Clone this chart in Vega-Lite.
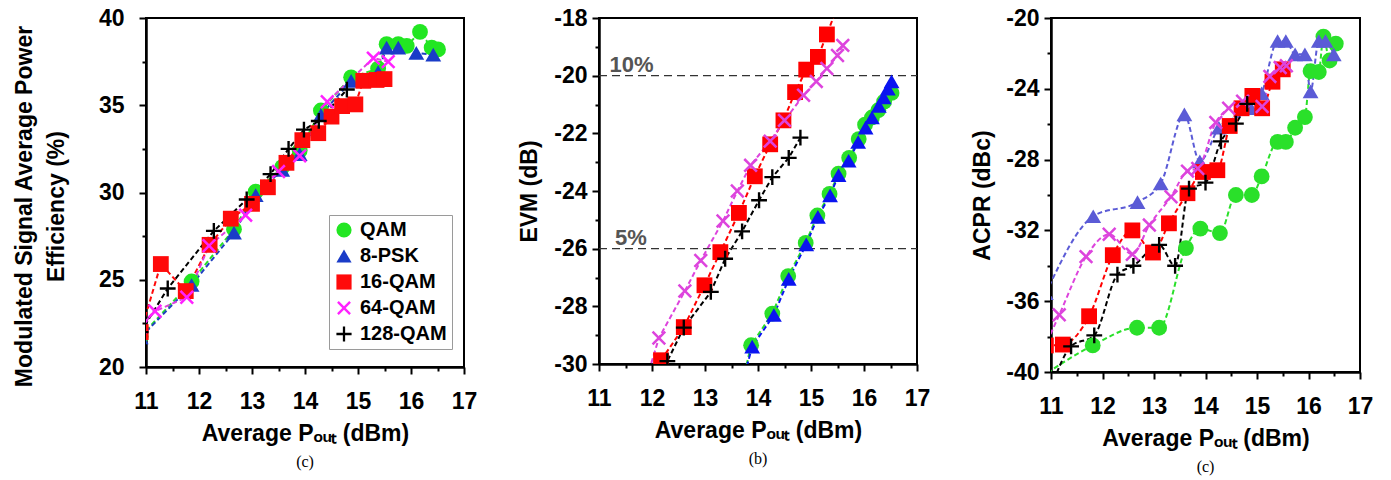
{
  "$schema": "https://vega.github.io/schema/vega-lite/v6.json",
  "padding": {"left": 12, "top": 6, "right": 5, "bottom": 2},
  "spacing": 39,
  "background": "white",
  "datasets": {
    "eff": [
      {"p": 10.9, "v": 21.75, "s": "QAM"}, {"p": 11.86, "v": 24.9, "s": "QAM"}, {"p": 12.66, "v": 27.9, "s": "QAM"}, {"p": 13.07, "v": 30.05, "s": "QAM"}, {"p": 13.57, "v": 31.45, "s": "QAM"}, {"p": 13.9, "v": 32.4, "s": "QAM"}, {"p": 14.3, "v": 34.7, "s": "QAM"}, {"p": 14.87, "v": 36.6, "s": "QAM"}, {"p": 15.38, "v": 37.1, "s": "QAM"}, {"p": 15.54, "v": 38.5, "s": "QAM"}, {"p": 15.76, "v": 38.5, "s": "QAM"}, {"p": 15.92, "v": 38.4, "s": "QAM"}, {"p": 16.17, "v": 39.2, "s": "QAM"}, {"p": 16.39, "v": 38.3, "s": "QAM"}, {"p": 16.51, "v": 38.2, "s": "QAM"},
      {"p": 10.9, "v": 21.7, "s": "8-PSK"}, {"p": 11.86, "v": 24.7, "s": "8-PSK"}, {"p": 12.66, "v": 27.7, "s": "8-PSK"}, {"p": 13.07, "v": 29.85, "s": "8-PSK"}, {"p": 13.57, "v": 31.3, "s": "8-PSK"}, {"p": 13.9, "v": 32.2, "s": "8-PSK"}, {"p": 14.3, "v": 34.45, "s": "8-PSK"}, {"p": 14.87, "v": 36.4, "s": "8-PSK"}, {"p": 15.38, "v": 36.9, "s": "8-PSK"}, {"p": 15.54, "v": 38.3, "s": "8-PSK"}, {"p": 15.76, "v": 38.3, "s": "8-PSK"}, {"p": 16.1, "v": 38.0, "s": "8-PSK"}, {"p": 16.42, "v": 37.9, "s": "8-PSK"},
      {"p": 10.9, "v": 22.0, "s": "16-QAM"}, {"p": 11.28, "v": 25.9, "s": "16-QAM"}, {"p": 11.75, "v": 24.35, "s": "16-QAM"}, {"p": 12.2, "v": 27.0, "s": "16-QAM"}, {"p": 12.6, "v": 28.5, "s": "16-QAM"}, {"p": 13.0, "v": 29.35, "s": "16-QAM"}, {"p": 13.3, "v": 30.3, "s": "16-QAM"}, {"p": 13.65, "v": 31.7, "s": "16-QAM"}, {"p": 13.95, "v": 33.0, "s": "16-QAM"}, {"p": 14.25, "v": 33.4, "s": "16-QAM"}, {"p": 14.5, "v": 34.35, "s": "16-QAM"}, {"p": 14.7, "v": 34.95, "s": "16-QAM"}, {"p": 14.95, "v": 35.05, "s": "16-QAM"}, {"p": 15.1, "v": 36.4, "s": "16-QAM"}, {"p": 15.35, "v": 36.45, "s": "16-QAM"}, {"p": 15.5, "v": 36.5, "s": "16-QAM"},
      {"p": 10.9, "v": 22.3, "s": "64-QAM"}, {"p": 11.17, "v": 23.2, "s": "64-QAM"}, {"p": 11.77, "v": 24.0, "s": "64-QAM"}, {"p": 12.19, "v": 26.95, "s": "64-QAM"}, {"p": 12.88, "v": 28.7, "s": "64-QAM"}, {"p": 13.5, "v": 31.2, "s": "64-QAM"}, {"p": 13.9, "v": 32.1, "s": "64-QAM"}, {"p": 14.42, "v": 35.2, "s": "64-QAM"}, {"p": 15.29, "v": 37.7, "s": "64-QAM"}, {"p": 15.57, "v": 37.5, "s": "64-QAM"},
      {"p": 10.9, "v": 22.0, "s": "128-QAM"}, {"p": 11.41, "v": 24.5, "s": "128-QAM"}, {"p": 12.28, "v": 27.8, "s": "128-QAM"}, {"p": 12.9, "v": 29.6, "s": "128-QAM"}, {"p": 13.35, "v": 31.05, "s": "128-QAM"}, {"p": 13.69, "v": 32.5, "s": "128-QAM"}, {"p": 13.98, "v": 33.6, "s": "128-QAM"}, {"p": 14.26, "v": 34.1, "s": "128-QAM"}, {"p": 14.79, "v": 35.9, "s": "128-QAM"}
    ],
    "evm": [
      {"p": 13.75, "v": -30.3, "s": "QAM"}, {"p": 13.87, "v": -29.35, "s": "QAM"}, {"p": 14.27, "v": -28.25, "s": "QAM"}, {"p": 14.57, "v": -26.95, "s": "QAM"}, {"p": 14.9, "v": -25.8, "s": "QAM"}, {"p": 15.12, "v": -24.85, "s": "QAM"}, {"p": 15.35, "v": -24.1, "s": "QAM"}, {"p": 15.52, "v": -23.4, "s": "QAM"}, {"p": 15.72, "v": -22.85, "s": "QAM"}, {"p": 15.9, "v": -22.2, "s": "QAM"}, {"p": 16.02, "v": -21.7, "s": "QAM"}, {"p": 16.15, "v": -21.45, "s": "QAM"}, {"p": 16.27, "v": -21.2, "s": "QAM"}, {"p": 16.38, "v": -20.9, "s": "QAM"}, {"p": 16.52, "v": -20.6, "s": "QAM"},
      {"p": 13.75, "v": -30.35, "s": "8-PSK"}, {"p": 13.89, "v": -29.4, "s": "8-PSK"}, {"p": 14.3, "v": -28.3, "s": "8-PSK"}, {"p": 14.58, "v": -27.05, "s": "8-PSK"}, {"p": 14.91, "v": -25.85, "s": "8-PSK"}, {"p": 15.13, "v": -24.9, "s": "8-PSK"}, {"p": 15.36, "v": -24.15, "s": "8-PSK"}, {"p": 15.52, "v": -23.45, "s": "8-PSK"}, {"p": 15.71, "v": -22.95, "s": "8-PSK"}, {"p": 15.89, "v": -22.3, "s": "8-PSK"}, {"p": 16.03, "v": -21.8, "s": "8-PSK"}, {"p": 16.15, "v": -21.45, "s": "8-PSK"}, {"p": 16.28, "v": -21.05, "s": "8-PSK"}, {"p": 16.37, "v": -20.75, "s": "8-PSK"}, {"p": 16.45, "v": -20.45, "s": "8-PSK"}, {"p": 16.52, "v": -20.2, "s": "8-PSK"},
      {"p": 12.1, "v": -30.4, "s": "16-QAM"}, {"p": 12.17, "v": -29.87, "s": "16-QAM"}, {"p": 12.6, "v": -28.72, "s": "16-QAM"}, {"p": 12.99, "v": -27.27, "s": "16-QAM"}, {"p": 13.29, "v": -26.12, "s": "16-QAM"}, {"p": 13.64, "v": -24.76, "s": "16-QAM"}, {"p": 13.94, "v": -23.49, "s": "16-QAM"}, {"p": 14.23, "v": -22.38, "s": "16-QAM"}, {"p": 14.48, "v": -21.55, "s": "16-QAM"}, {"p": 14.7, "v": -20.57, "s": "16-QAM"}, {"p": 14.91, "v": -19.79, "s": "16-QAM"}, {"p": 15.13, "v": -19.35, "s": "16-QAM"}, {"p": 15.3, "v": -18.57, "s": "16-QAM"}, {"p": 15.5, "v": -17.6, "s": "16-QAM"},
      {"p": 11.9, "v": -30.5, "s": "64-QAM"}, {"p": 12.13, "v": -29.1, "s": "64-QAM"}, {"p": 12.62, "v": -27.47, "s": "64-QAM"}, {"p": 12.92, "v": -26.41, "s": "64-QAM"}, {"p": 13.34, "v": -25.04, "s": "64-QAM"}, {"p": 13.61, "v": -24.0, "s": "64-QAM"}, {"p": 13.86, "v": -23.11, "s": "64-QAM"}, {"p": 14.23, "v": -22.27, "s": "64-QAM"}, {"p": 14.5, "v": -21.55, "s": "64-QAM"}, {"p": 14.86, "v": -20.68, "s": "64-QAM"}, {"p": 15.1, "v": -20.2, "s": "64-QAM"}, {"p": 15.3, "v": -19.75, "s": "64-QAM"}, {"p": 15.5, "v": -19.3, "s": "64-QAM"}, {"p": 15.6, "v": -18.95, "s": "64-QAM"},
      {"p": 12.2, "v": -30.4, "s": "128-QAM"}, {"p": 12.29, "v": -29.9, "s": "128-QAM"}, {"p": 12.6, "v": -28.74, "s": "128-QAM"}, {"p": 13.11, "v": -27.5, "s": "128-QAM"}, {"p": 13.38, "v": -26.35, "s": "128-QAM"}, {"p": 13.7, "v": -25.4, "s": "128-QAM"}, {"p": 14.02, "v": -24.32, "s": "128-QAM"}, {"p": 14.27, "v": -23.52, "s": "128-QAM"}, {"p": 14.58, "v": -22.85, "s": "128-QAM"}, {"p": 14.8, "v": -22.15, "s": "128-QAM"}
    ],
    "acpr": [
      {"p": 10.8, "v": -40.3, "s": "QAM"}, {"p": 11.81, "v": -38.5, "s": "QAM"}, {"p": 12.67, "v": -37.5, "s": "QAM"}, {"p": 13.1, "v": -37.5, "s": "QAM"}, {"p": 13.62, "v": -33.0, "s": "QAM"}, {"p": 13.9, "v": -31.9, "s": "QAM"}, {"p": 14.28, "v": -32.15, "s": "QAM"}, {"p": 14.59, "v": -30.0, "s": "QAM"}, {"p": 14.9, "v": -30.0, "s": "QAM"}, {"p": 15.09, "v": -28.95, "s": "QAM"}, {"p": 15.4, "v": -27.0, "s": "QAM"}, {"p": 15.56, "v": -27.0, "s": "QAM"}, {"p": 15.74, "v": -26.2, "s": "QAM"}, {"p": 15.93, "v": -25.6, "s": "QAM"}, {"p": 16.04, "v": -23.0, "s": "QAM"}, {"p": 16.2, "v": -23.05, "s": "QAM"}, {"p": 16.29, "v": -21.05, "s": "QAM"}, {"p": 16.41, "v": -22.4, "s": "QAM"}, {"p": 16.53, "v": -21.45, "s": "QAM"},
      {"p": 10.9, "v": -35.55, "s": "8-PSK"}, {"p": 11.82, "v": -31.2, "s": "8-PSK"}, {"p": 12.68, "v": -30.4, "s": "8-PSK"}, {"p": 13.13, "v": -29.35, "s": "8-PSK"}, {"p": 13.59, "v": -25.45, "s": "8-PSK"}, {"p": 13.89, "v": -28.1, "s": "8-PSK"}, {"p": 14.26, "v": -26.2, "s": "8-PSK"}, {"p": 14.88, "v": -25.1, "s": "8-PSK"}, {"p": 15.09, "v": -24.25, "s": "8-PSK"}, {"p": 15.4, "v": -21.3, "s": "8-PSK"}, {"p": 15.56, "v": -21.3, "s": "8-PSK"}, {"p": 15.74, "v": -22.05, "s": "8-PSK"}, {"p": 15.93, "v": -22.05, "s": "8-PSK"}, {"p": 16.04, "v": -24.15, "s": "8-PSK"}, {"p": 16.2, "v": -21.3, "s": "8-PSK"}, {"p": 16.33, "v": -21.3, "s": "8-PSK"}, {"p": 16.49, "v": -22.05, "s": "8-PSK"},
      {"p": 10.9, "v": -38.5, "s": "16-QAM"}, {"p": 11.23, "v": -38.45, "s": "16-QAM"}, {"p": 11.74, "v": -36.85, "s": "16-QAM"}, {"p": 12.2, "v": -33.4, "s": "16-QAM"}, {"p": 12.58, "v": -32.0, "s": "16-QAM"}, {"p": 12.98, "v": -33.25, "s": "16-QAM"}, {"p": 13.29, "v": -31.6, "s": "16-QAM"}, {"p": 13.65, "v": -29.9, "s": "16-QAM"}, {"p": 13.95, "v": -28.7, "s": "16-QAM"}, {"p": 14.23, "v": -28.6, "s": "16-QAM"}, {"p": 14.47, "v": -26.1, "s": "16-QAM"}, {"p": 14.7, "v": -25.1, "s": "16-QAM"}, {"p": 14.91, "v": -24.4, "s": "16-QAM"}, {"p": 15.1, "v": -25.1, "s": "16-QAM"}, {"p": 15.3, "v": -23.6, "s": "16-QAM"}, {"p": 15.5, "v": -22.9, "s": "16-QAM"},
      {"p": 10.8, "v": -39.1, "s": "64-QAM"}, {"p": 11.16, "v": -36.77, "s": "64-QAM"}, {"p": 11.68, "v": -33.48, "s": "64-QAM"}, {"p": 12.13, "v": -32.22, "s": "64-QAM"}, {"p": 12.58, "v": -33.35, "s": "64-QAM"}, {"p": 12.91, "v": -31.7, "s": "64-QAM"}, {"p": 13.33, "v": -30.1, "s": "64-QAM"}, {"p": 13.65, "v": -28.65, "s": "64-QAM"}, {"p": 13.85, "v": -28.5, "s": "64-QAM"}, {"p": 14.2, "v": -25.9, "s": "64-QAM"}, {"p": 14.45, "v": -25.1, "s": "64-QAM"}, {"p": 14.72, "v": -24.7, "s": "64-QAM"}, {"p": 15.1, "v": -25.0, "s": "64-QAM"}, {"p": 15.25, "v": -23.3, "s": "64-QAM"}, {"p": 15.45, "v": -22.8, "s": "64-QAM"}, {"p": 15.57, "v": -22.7, "s": "64-QAM"},
      {"p": 11.0, "v": -40.9, "s": "128-QAM"}, {"p": 11.39, "v": -38.55, "s": "128-QAM"}, {"p": 11.84, "v": -37.93, "s": "128-QAM"}, {"p": 12.29, "v": -34.5, "s": "128-QAM"}, {"p": 12.6, "v": -34.0, "s": "128-QAM"}, {"p": 13.1, "v": -32.82, "s": "128-QAM"}, {"p": 13.41, "v": -34.0, "s": "128-QAM"}, {"p": 13.68, "v": -29.64, "s": "128-QAM"}, {"p": 14.0, "v": -29.3, "s": "128-QAM"}, {"p": 14.3, "v": -26.97, "s": "128-QAM"}, {"p": 14.59, "v": -25.97, "s": "128-QAM"}, {"p": 14.81, "v": -24.85, "s": "128-QAM"}
    ],
    "refs": [
      {"v": -20, "t": "10%", "p": 11.2},
      {"v": -26, "t": "5%", "p": 11.3}
    ]
  },
  "resolve": {
    "scale": {"color": "independent", "stroke": "independent", "shape": "independent"}
  },
  "hconcat": [
    {
      "width": 318,
      "height": 349,
      "title": {"text": "(c)", "orient": "bottom", "font": "Liberation Serif", "fontSize": 16, "fontWeight": "normal", "offset": 9},
      "data": {"name": "eff"},
      "encoding": {
        "x": {"field": "p", "type": "quantitative", "scale": {"domain": [11, 17], "nice": false},
          "axis": {"title": "Average Pₒᵤₜ (dBm)", "values": [11, 11.5, 12, 12.5, 13, 13.5, 14, 14.5, 15, 15.5, 16, 16.5, 17],
            "labelExpr": "datum.value % 1 === 0 ? toString(datum.value) : ''",
            "tickSize": {"condition": {"test": "datum.value % 1 === 0", "value": 7}, "value": 4}}},
        "y": {"field": "v", "type": "quantitative", "scale": {"domain": [20, 40], "nice": false},
          "axis": {"title": ["Modulated Signal Average Power", "Efficiency (%)"], "values": [20, 22.5, 25, 27.5, 30, 32.5, 35, 37.5, 40],
            "labelExpr": "datum.value % 5 === 0 ? toString(datum.value) : ''",
            "tickSize": {"condition": {"test": "datum.value % 5 === 0", "value": 7}, "value": 4},
            "labelPadding": 15, "titlePadding": 30, "titleLineHeight": 32, "titleY": 188}}
      },
      "layer": [
        {
          "mark": {"type": "line", "clip": true, "strokeDash": [5, 3], "strokeWidth": 2},
          "encoding": {
            "stroke": {"field": "s", "type": "nominal", "legend": null,
              "scale": {"domain": ["128-QAM", "64-QAM", "16-QAM", "8-PSK", "QAM"], "range": ["#000000", "#e040e0", "#ff0a0a", "#2040c0", "#26e026"]}},
            "order": {"field": "p"}
          }
        },
        {
          "mark": {"type": "point", "clip": true, "filled": true, "size": 250, "opacity": 1},
          "encoding": {
            "color": {"field": "s", "type": "nominal",
              "scale": {"domain": ["QAM", "8-PSK", "16-QAM", "64-QAM", "128-QAM"], "range": ["#22e622", "#1a3cc8", "#ff0a0a", "#ff22ff", "#000000"]},
              "legend": {"title": null, "orient": "none", "legendX": 183, "legendY": 197}},
            "shape": {"field": "s", "type": "nominal",
              "scale": {"domain": ["QAM", "8-PSK", "16-QAM", "64-QAM", "128-QAM"], "range": ["circle", "triangle-up", "square", "M0,-0.226L0.687,-0.913L0.913,-0.687L0.226,0L0.913,0.687L0.687,0.913L0,0.226L-0.687,0.913L-0.913,0.687L-0.226,0L-0.913,-0.687L-0.687,-0.913Z", "M-0.15,-1L0.15,-1L0.15,-0.15L1,-0.15L1,0.15L0.15,0.15L0.15,1L-0.15,1L-0.15,0.15L-1,0.15L-1,-0.15L-0.15,-0.15Z"]},
              "legend": {"title": null, "orient": "none", "legendX": 183, "legendY": 197}}
          }
        }
      ]
    },
    {
      "width": 318,
      "height": 346,
      "title": {"text": "(b)", "orient": "bottom", "font": "Liberation Serif", "fontSize": 16, "fontWeight": "normal", "offset": 9},
      "encoding": {
        "x": {"field": "p", "type": "quantitative", "scale": {"domain": [11, 17], "nice": false},
          "axis": {"title": "Average Pₒᵤₜ (dBm)", "values": [11, 11.5, 12, 12.5, 13, 13.5, 14, 14.5, 15, 15.5, 16, 16.5, 17],
            "labelExpr": "datum.value % 1 === 0 ? toString(datum.value) : ''",
            "tickSize": {"condition": {"test": "datum.value % 1 === 0", "value": 7}, "value": 4}}},
        "y": {"field": "v", "type": "quantitative", "scale": {"domain": [-30, -18], "nice": false},
          "axis": {"title": "EVM (dB)", "values": [-30, -29, -28, -27, -26, -25, -24, -23, -22, -21, -20, -19, -18],
            "labelExpr": "datum.value % 2 === 0 ? toString(datum.value) : ''",
            "tickSize": {"condition": {"test": "datum.value % 2 === 0", "value": 7}, "value": 4},
            "labelPadding": 5, "titlePadding": 12}}
      },
      "layer": [
        {
          "data": {"name": "evm"},
          "mark": {"type": "line", "clip": true, "strokeDash": [5, 3], "strokeWidth": 2},
          "encoding": {
            "stroke": {"field": "s", "type": "nominal", "legend": null,
              "scale": {"domain": ["QAM", "8-PSK", "16-QAM", "64-QAM", "128-QAM"], "range": ["#2adf2a", "#0a14f0", "#ff0000", "#dd44dd", "#000000"]}},
            "order": {"field": "p"}
          }
        },
        {
          "data": {"name": "refs"},
          "mark": {"type": "rule", "strokeDash": [8, 5], "strokeWidth": 1.3, "color": "#333333"},
          "encoding": {"x": {"datum": 11}, "x2": {"datum": 17}}
        },
        {
          "data": {"name": "refs"},
          "mark": {"type": "text", "align": "left", "baseline": "bottom", "dy": 1, "font": "Liberation Sans", "fontSize": 22, "fontWeight": "bold", "color": "#555555"},
          "encoding": {"text": {"field": "t"}}
        },
        {
          "data": {"name": "evm"},
          "mark": {"type": "point", "clip": true, "filled": true, "size": 250, "opacity": 1},
          "encoding": {
            "color": {"field": "s", "type": "nominal", "legend": null,
              "scale": {"domain": ["QAM", "8-PSK", "16-QAM", "64-QAM", "128-QAM"], "range": ["#2adf2a", "#0a14f0", "#ff0000", "#dd44dd", "#000000"]}},
            "shape": {"field": "s", "type": "nominal", "legend": null,
              "scale": {"domain": ["QAM", "8-PSK", "16-QAM", "64-QAM", "128-QAM"], "range": ["circle", "triangle-up", "square", "M0,-0.226L0.687,-0.913L0.913,-0.687L0.226,0L0.913,0.687L0.687,0.913L0,0.226L-0.687,0.913L-0.913,0.687L-0.226,0L-0.913,-0.687L-0.687,-0.913Z", "M-0.15,-1L0.15,-1L0.15,-0.15L1,-0.15L1,0.15L0.15,0.15L0.15,1L-0.15,1L-0.15,0.15L-1,0.15L-1,-0.15L-0.15,-0.15Z"]}}
          }
        }
      ]
    },
    {
      "width": 309,
      "height": 354,
      "title": {"text": "(c)", "orient": "bottom", "font": "Liberation Serif", "fontSize": 16, "fontWeight": "normal", "offset": 9},
      "data": {"name": "acpr"},
      "encoding": {
        "x": {"field": "p", "type": "quantitative", "scale": {"domain": [11, 17], "nice": false},
          "axis": {"title": "Average Pₒᵤₜ (dBm)", "values": [11, 11.5, 12, 12.5, 13, 13.5, 14, 14.5, 15, 15.5, 16, 16.5, 17],
            "labelExpr": "datum.value % 1 === 0 ? toString(datum.value) : ''",
            "tickSize": {"condition": {"test": "datum.value % 1 === 0", "value": 7}, "value": 4}}},
        "y": {"field": "v", "type": "quantitative", "scale": {"domain": [-40, -20], "nice": false},
          "axis": {"title": "ACPR (dBc)", "values": [-40, -38, -36, -34, -32, -30, -28, -26, -24, -22, -20],
            "labelExpr": "datum.value % 4 === 0 ? toString(datum.value) : ''",
            "tickSize": {"condition": {"test": "datum.value % 4 === 0", "value": 7}, "value": 4},
            "labelPadding": 5, "titlePadding": 11}}
      },
      "layer": [
        {
          "mark": {"type": "line", "clip": true, "strokeDash": [5, 3], "strokeWidth": 2, "interpolate": "monotone"},
          "encoding": {
            "stroke": {"field": "s", "type": "nominal", "legend": null,
              "scale": {"domain": ["QAM", "8-PSK", "16-QAM", "64-QAM", "128-QAM"], "range": ["#2ae02a", "#5b5bd6", "#ff0000", "#dd44dd", "#000000"]}},
            "order": {"field": "p"}
          }
        },
        {
          "mark": {"type": "point", "clip": true, "filled": true, "size": 250, "opacity": 1},
          "encoding": {
            "color": {"field": "s", "type": "nominal", "legend": null,
              "scale": {"domain": ["QAM", "8-PSK", "16-QAM", "64-QAM", "128-QAM"], "range": ["#2ae02a", "#5b5bd6", "#ff0000", "#dd44dd", "#000000"]}},
            "shape": {"field": "s", "type": "nominal", "legend": null,
              "scale": {"domain": ["QAM", "8-PSK", "16-QAM", "64-QAM", "128-QAM"], "range": ["circle", "triangle-up", "square", "M0,-0.226L0.687,-0.913L0.913,-0.687L0.226,0L0.913,0.687L0.687,0.913L0,0.226L-0.687,0.913L-0.913,0.687L-0.226,0L-0.913,-0.687L-0.687,-0.913Z", "M-0.15,-1L0.15,-1L0.15,-0.15L1,-0.15L1,0.15L0.15,0.15L0.15,1L-0.15,1L-0.15,0.15L-1,0.15L-1,-0.15L-0.15,-0.15Z"]}}
          }
        }
      ]
    }
  ],
  "config": {
    "view": {"stroke": "#000000", "strokeWidth": 2},
    "axis": {
      "grid": false,
      "domainColor": "#000000", "domainWidth": 2.5,
      "tickColor": "#000000", "tickWidth": 2,
      "labelFont": "Liberation Sans", "labelFontSize": 23, "labelFontWeight": "bold", "labelColor": "#000000",
      "labelFlush": false, "labelOverlap": false,
      "titleFont": "Liberation Sans", "titleFontSize": 23, "titleFontWeight": "bold", "titleColor": "#000000"
    },
    "axisX": {"titlePadding": 9, "labelPadding": 16},
    "legend": {
      "labelFont": "Liberation Sans", "labelFontSize": 20, "labelFontWeight": "bold", "labelColor": "#000000",
      "symbolSize": 230, "strokeColor": "#9a9a9a", "fillColor": "#ffffff", "padding": 5, "rowPadding": 6,
      "labelOffset": 6
    }
  }
}
